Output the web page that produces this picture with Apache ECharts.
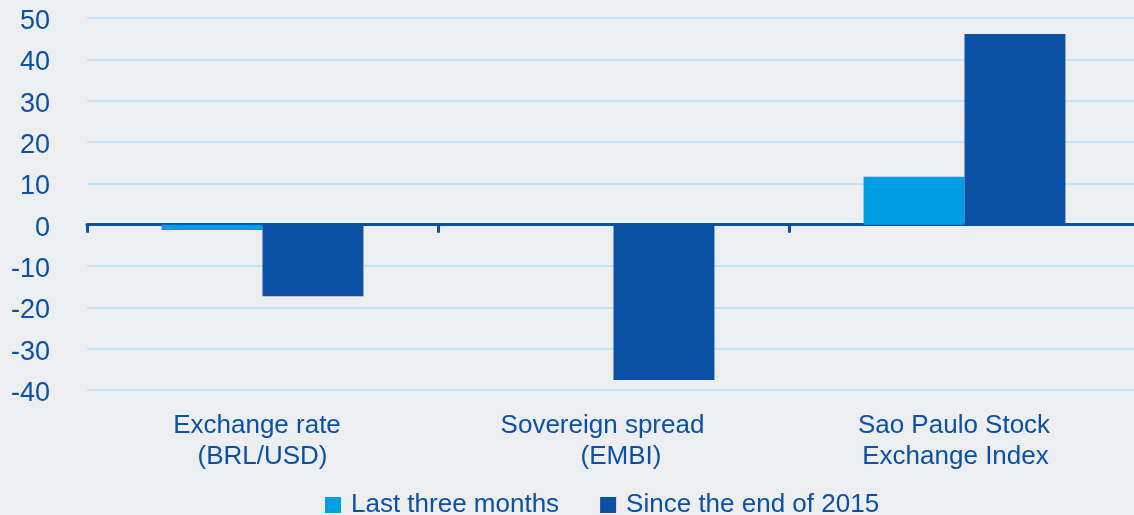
<!DOCTYPE html>
<html>
<head>
<meta charset="utf-8">
<script src="https://cdn.jsdelivr.net/npm/echarts@6/dist/echarts.min.js"></script>
<style>
html,body{margin:0;padding:0;background:#EDEEF0;overflow:hidden;width:1134px;height:515px;}
#chart{width:1140px;height:515px;}
</style>
</head>
<body>
<div id="chart"></div>
<script>
const categories = ['Exchange rate\n(BRL/USD)', 'Sovereign spread\n(EMBI)', 'Sao Paulo Stock\nExchange Index'];
const seriesNames = ['Last three months', 'Since the end of 2015'];
const lastThreeMonths = [-1.3, 0, 11.6];
const sinceEnd2015 = [-17.3, -37.6, 46.1];
const yTicks = { min: -40, max: 50, interval: 10 };

const FONT = "'Liberation Sans', Arial, sans-serif";
const TEXT = '#0A50A4';
// per-line label paddings (layout style only)
const labelPad = [
  [[0, 11, 0, 0], [0, 0, 0, 0]],
  [[0, 22, 0, 0], [0, 0, 0, 15]],
  [[0, 21, 0, 0], [0, 18, 0, 0]]
];
const rich = {};
labelPad.forEach((p, i) => {
  rich['a' + i] = { fontSize: 26, color: TEXT, fontFamily: FONT, lineHeight: 31, padding: p[0] };
  rich['b' + i] = { fontSize: 26, color: TEXT, fontFamily: FONT, lineHeight: 31, padding: p[1] };
});

const chart = echarts.init(document.getElementById('chart'));
chart.setOption({
  backgroundColor: '#EDEEF0',
  animation: false,
  textStyle: { fontFamily: FONT },
  grid: { left: 87, right: 0, top: 18, height: 372, containLabel: false },
  legend: {
    left: 325, top: 492, padding: 0,
    itemWidth: 16, itemHeight: 16, itemGap: 41, icon: 'rect',
    textStyle: { fontSize: 26, color: TEXT, fontFamily: FONT, padding: [0, 0, 0, 5] },
    data: seriesNames
  },
  xAxis: [{
    type: 'category', data: categories, position: 'bottom',
    axisLine: { show: false, onZero: false }, axisTick: { show: false },
    axisLabel: {
      fontSize: 26, color: TEXT, fontFamily: FONT, lineHeight: 31, margin: 20, interval: 0,
      formatter: function (value, index) {
        const lines = value.split('\n');
        return '{a' + index + '|' + lines[0] + '}\n{b' + index + '|' + lines[1] + '}';
      },
      rich: rich
    }
  }, {
    type: 'category', data: categories, position: 'bottom',
    axisLine: { show: true, onZero: true, lineStyle: { color: '#0A50A4', width: 3 } },
    axisTick: { show: true, length: 8, lineStyle: { color: '#0A50A4', width: 3 } },
    axisLabel: { show: false }, splitLine: { show: false }
  }],
  yAxis: {
    type: 'value', min: yTicks.min, max: yTicks.max, interval: yTicks.interval,
    axisLine: { show: false }, axisTick: { show: false },
    axisLabel: {
      margin: 37,
      formatter: function (v) { return '{v|' + v + '}'; },
      rich: { v: { fontSize: 27, color: TEXT, fontFamily: FONT, padding: [7, 0, 0, 0] } }
    },
    splitLine: { lineStyle: { color: '#BEE6F7', width: 2 } }
  },
  series: [{
    name: seriesNames[0], type: 'bar', data: lastThreeMonths, xAxisIndex: 0,
    itemStyle: { color: '#009FE3' }, barGap: '0%', barCategoryGap: '42.5%'
  }, {
    name: seriesNames[1], type: 'bar', data: sinceEnd2015, xAxisIndex: 0,
    itemStyle: { color: '#0A50A4' }, barGap: '0%', barCategoryGap: '42.5%'
  }]
});
</script>
</body>
</html>
